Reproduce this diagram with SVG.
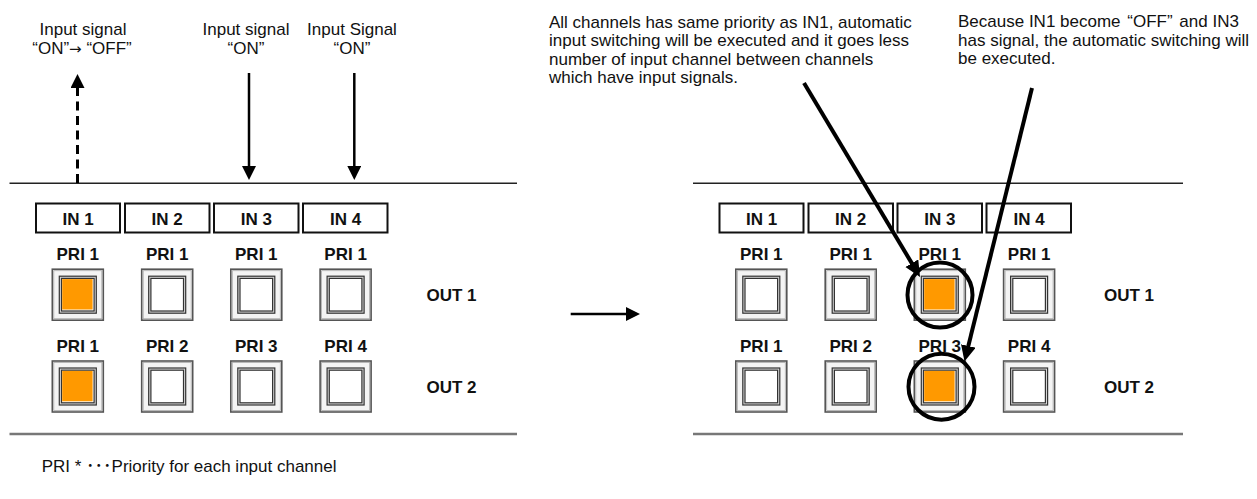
<svg xmlns="http://www.w3.org/2000/svg" xmlns:xlink="http://www.w3.org/1999/xlink" width="1257" height="499" viewBox="0 0 1257 499">
<style>
  text { font-family: "Liberation Sans", Arial, "Noto Sans CJK JP", sans-serif; fill: #111; }
  .lbl { font-size: 17px; }
  .mid { text-anchor: middle; }
  .arr { font-family: "DejaVu Sans", sans-serif; font-size: 15px; }
  .b { font-size: 17px; font-weight: bold; text-anchor: middle; }
  .ob { font-size: 17px; font-weight: bold; }
  .inbox { fill: #fff; stroke: #111; stroke-width: 2; }
  .topline { stroke: #222; stroke-width: 1.5; }
  .botline { stroke: #777; stroke-width: 2.5; }
  .thin { stroke: #000; stroke-width: 2.5; fill: none; }
  .thick { stroke: #000; stroke-width: 4; fill: none; }
  .dash { stroke: #000; stroke-width: 3; stroke-dasharray: 9 5.5; fill: none; }
  .ring { fill: none; stroke: #000; stroke-width: 4; }
</style>
<defs>
  <marker id="ah" markerUnits="userSpaceOnUse" markerWidth="16" markerHeight="16" refX="6" refY="7" orient="auto">
    <path d="M0,0 L14,7 L0,14 z" fill="#000"/>
  </marker>
  <marker id="ahk" markerUnits="userSpaceOnUse" markerWidth="18" markerHeight="18" refX="6" refY="7.5" orient="auto">
    <path d="M0,0 L16,7.5 L0,15 z" fill="#000"/>
  </marker>
  <g id="btnFrame">
    <rect x="-25.5" y="-25.5" width="51" height="51" fill="#f4f4f4" stroke="#555" stroke-width="1.6"/>
    <rect x="-24" y="-24" width="48" height="48" fill="none" stroke="#aaa" stroke-width="0.8"/>
    <rect x="-18.5" y="-18.5" width="37" height="37" fill="#d6d6d6" stroke="#333" stroke-width="1.2"/>
  </g>
  <g id="btnW">
    <use xlink:href="#btnFrame"/>
    <rect x="-16.3" y="-16.3" width="32.6" height="32.6" fill="#fff" stroke="#333" stroke-width="1.2"/>
  </g>
  <g id="btnO">
    <use xlink:href="#btnFrame"/>
    <rect x="-16.3" y="-16.3" width="32.6" height="32.6" fill="#fff" stroke="#333" stroke-width="1.2"/>
    <rect x="-15.6" y="-15.6" width="30.4" height="30.4" fill="#FF9900"/>
  </g>
</defs>

<!-- Top labels -->
<g id="lbl-in1">
  <text class="lbl mid" x="83" y="34.5">Input signal</text>
  <text class="lbl mid" x="82" y="54">“ON”<tspan class="arr">→</tspan> “OFF”</text>
</g>
<g id="lbl-in3">
  <text class="lbl mid" x="246" y="34.5">Input signal</text>
  <text class="lbl mid" x="246" y="54">“ON”</text>
</g>
<g id="lbl-in4">
  <text class="lbl mid" x="352" y="34.5">Input Signal</text>
  <text class="lbl mid" x="352" y="54">“ON”</text>
</g>
<g id="note-1">
  <text class="lbl" x="549" y="27.5">All channels has same priority as IN1, automatic</text>
  <text class="lbl" x="549" y="46">input switching will be executed and it goes less</text>
  <text class="lbl" x="549" y="64.5">number of input channel between channels</text>
  <text class="lbl" x="549" y="83">which have input signals.</text>
</g>
<g id="note-2">
  <text class="lbl" x="958" y="27">Because IN1 become <tspan dx="2">“OFF”</tspan> <tspan dx="2">and IN3</tspan></text>
  <text class="lbl" x="958" y="45.5">has signal, the automatic switching will</text>
  <text class="lbl" x="958" y="64">be executed.</text>
</g>

<!-- Panel lines -->
<g id="panel-left">
  <line class="topline" x1="9.5" y1="183.3" x2="517" y2="183.3"/>
  <line class="botline" x1="9.5" y1="434" x2="517" y2="434"/>
</g>
<g id="panel-right">
  <line class="topline" x1="693" y1="183.3" x2="1183" y2="183.3"/>
  <line class="botline" x1="693" y1="434" x2="1183" y2="434"/>
</g>

<!-- Left panel -->
<g id="L-IN1"><rect class="inbox" x="36" y="203.5" width="84" height="29"/><text class="b" x="78" y="224.5">IN 1</text></g>
<g id="L-IN2"><rect class="inbox" x="125" y="203.5" width="84.5" height="29"/><text class="b" x="167.2" y="224.5">IN 2</text></g>
<g id="L-IN3"><rect class="inbox" x="214" y="203.5" width="84.5" height="29"/><text class="b" x="256.3" y="224.5">IN 3</text></g>
<g id="L-IN4"><rect class="inbox" x="303" y="203.5" width="84.5" height="29"/><text class="b" x="345.6" y="224.5">IN 4</text></g>

<g id="L-O1-1"><text class="b" x="77.8" y="260">PRI 1</text><use xlink:href="#btnO" x="77.8" y="294.7"/></g>
<g id="L-O1-2"><text class="b" x="167.2" y="260">PRI 1</text><use xlink:href="#btnW" x="167.2" y="294.7"/></g>
<g id="L-O1-3"><text class="b" x="256.3" y="260">PRI 1</text><use xlink:href="#btnW" x="256.3" y="294.7"/></g>
<g id="L-O1-4"><text class="b" x="345.6" y="260">PRI 1</text><use xlink:href="#btnW" x="345.6" y="294.7"/></g>
<g id="L-OUT1"><text class="ob" x="426.5" y="301">OUT 1</text></g>

<g id="L-O2-1"><text class="b" x="77.8" y="351.7">PRI 1</text><use xlink:href="#btnO" x="77.8" y="386.5"/></g>
<g id="L-O2-2"><text class="b" x="167.2" y="351.7">PRI 2</text><use xlink:href="#btnW" x="167.2" y="386.5"/></g>
<g id="L-O2-3"><text class="b" x="256.3" y="351.7">PRI 3</text><use xlink:href="#btnW" x="256.3" y="386.5"/></g>
<g id="L-O2-4"><text class="b" x="345.6" y="351.7">PRI 4</text><use xlink:href="#btnW" x="345.6" y="386.5"/></g>
<g id="L-OUT2"><text class="ob" x="426.5" y="392.7">OUT 2</text></g>

<!-- Right panel -->
<g id="R-IN1"><rect class="inbox" x="719.5" y="203.5" width="84" height="29"/><text class="b" x="761.5" y="224.5">IN 1</text></g>
<g id="R-IN2"><rect class="inbox" x="808.5" y="203.5" width="84.5" height="29"/><text class="b" x="850.7" y="224.5">IN 2</text></g>
<g id="R-IN3"><rect class="inbox" x="897.5" y="203.5" width="84.5" height="29"/><text class="b" x="939.8" y="224.5">IN 3</text></g>
<g id="R-IN4"><rect class="inbox" x="986.5" y="203.5" width="84.5" height="29"/><text class="b" x="1029.1" y="224.5">IN 4</text></g>

<g id="R-O1-1"><text class="b" x="761.3" y="260">PRI 1</text><use xlink:href="#btnW" x="761.3" y="294.7"/></g>
<g id="R-O1-2"><text class="b" x="850.7" y="260">PRI 1</text><use xlink:href="#btnW" x="850.7" y="294.7"/></g>
<g id="R-O1-3"><text class="b" x="939.8" y="260">PRI 1</text><use xlink:href="#btnO" x="939.8" y="294.7"/></g>
<g id="R-O1-4"><text class="b" x="1029.1" y="260">PRI 1</text><use xlink:href="#btnW" x="1029.1" y="294.7"/></g>
<g id="R-OUT1"><text class="ob" x="1104" y="301">OUT 1</text></g>

<g id="R-O2-1"><text class="b" x="761.3" y="351.7">PRI 1</text><use xlink:href="#btnW" x="761.3" y="386.5"/></g>
<g id="R-O2-2"><text class="b" x="850.7" y="351.7">PRI 2</text><use xlink:href="#btnW" x="850.7" y="386.5"/></g>
<g id="R-O2-3"><text class="b" x="939.8" y="351.7">PRI 3</text><use xlink:href="#btnO" x="939.8" y="386.5"/></g>
<g id="R-O2-4"><text class="b" x="1029.1" y="351.7">PRI 4</text><use xlink:href="#btnW" x="1029.1" y="386.5"/></g>
<g id="R-OUT2"><text class="ob" x="1104" y="392.7">OUT 2</text></g>

<g id="highlights">
  <circle class="ring" cx="940" cy="295" r="32.5"/>
  <circle class="ring" cx="941.5" cy="386.7" r="33"/>
</g>

<!-- Connectors -->
<g id="connectors">
  <line class="dash" x1="77.5" y1="183" x2="77.5" y2="82" marker-end="url(#ah)"/>
  <line class="thin" x1="249" y1="73" x2="249" y2="172" marker-end="url(#ah)"/>
  <line class="thin" x1="354.3" y1="73" x2="354.3" y2="172" marker-end="url(#ah)"/>
  <line class="thin" x1="570.7" y1="314" x2="632" y2="314" marker-end="url(#ah)"/>
  <line class="thick" x1="804" y1="83" x2="914.9" y2="268.4" marker-end="url(#ahk)"/>
  <line class="thick" x1="1032" y1="88" x2="966.9" y2="351.8" marker-end="url(#ahk)"/>
</g>

<g id="footer">
  <text class="lbl" x="41.7" y="472">PRI * ･･･Priority for each input channel</text>
</g>
</svg>
